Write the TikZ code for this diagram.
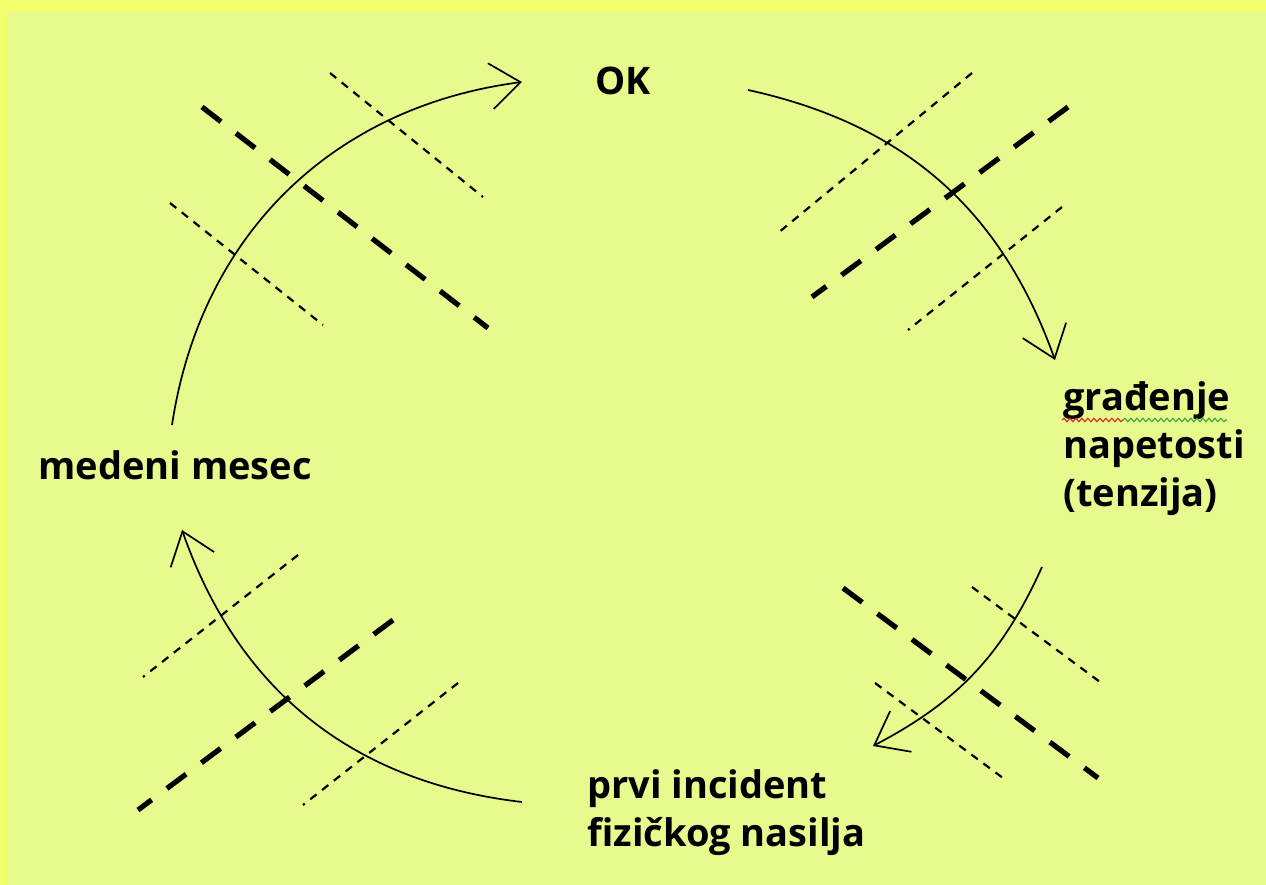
\documentclass[tikz,border=0pt]{standalone}
\usepackage{fontspec}
\setmainfont{Open Sans}
\usetikzlibrary{arrows.meta, decorations.pathmorphing}
\definecolor{bgouter}{RGB}{244,255,108}
\definecolor{bginner}{RGB}{230,250,142}
\definecolor{spellred}{RGB}{215,45,40}
\definecolor{spellgreen}{RGB}{70,165,60}
\tikzset{
  stage/.style={font=\bfseries\fontsize{19}{24}\selectfont, inner sep=0pt, align=left},
  cyclearc/.style={line width=0.85pt, -{Straight Barb[length=15pt, width=23pt, line width=0.85pt]}},
  barthick/.style={line width=2.6pt, dash pattern=on 12pt off 9.5pt},
  barthin/.style={line width=1.1pt, dash pattern=on 4pt off 3.5pt},
  spell/.style={line width=0.6pt, decorate, decoration={snake, amplitude=0.8pt, segment length=3pt}},
}

\begin{document}
\begin{tikzpicture}[x=0.5pt, y=0.5pt]
  % background
  \fill[bgouter] (0,0) rectangle (1266,885);
  \fill[bginner] (7,0) rectangle (1266,874);
  \useasboundingbox (0,0) rectangle (1266,885);
  % stages of the cycle
  \node[stage, anchor=base west] (ok) at (595,790) {OK};
  \node[stage, anchor=base west] (tenzija) at (1063,378) {građenje\\napetosti\\(tenzija)};
  \node[stage, anchor=base west] (incident) at (587,38) {prvi incident\\fizičkog nasilja};
  \node[stage, anchor=base west] (mesec) at (38,405) {medeni mesec};
  % spell check marks
  \draw[spell, spellred] (1062,465) -- (1123,465);
  \draw[spell, spellgreen] (1123,465) -- (1227,465);
  % arc ends
  \coordinate (m1) at (172,460);
  \coordinate (o1) at (522,803);
  \coordinate (o2) at (748,795);
  \coordinate (t1) at (1055,525);
  \coordinate (t2) at (1042,318);
  \coordinate (i1) at (873,139);
  \coordinate (i2) at (522,83);
  \coordinate (m2) at (182,355);
  % arcs
  \draw[cyclearc] (m1) to[bend left=37] (o1);
  \draw[cyclearc] (o2) to[bend left=29] (t1);
  \draw[cyclearc] (t2) to[bend left=19] (i1);
  \draw[cyclearc] (i2) to[bend left=32] (m2);
  % crossing bars
  \foreach \xa/\ya/\xb/\yb in {202/778/488/557, 1068/778/812/588, 843/297/1098/107, 393/265/138/75}
    \draw[barthick] (\xa,\ya) -- (\xb,\yb);
  \foreach \xa/\ya/\xb/\yb in {330/812/483/688, 170/682/323/560, 972/812/778/652, 1062/678/908/555,
                               972/298/1100/203, 875/202/1003/107, 298/330/143/208, 458/202/303/80}
    \draw[barthin] (\xa,\ya) -- (\xb,\yb);
\end{tikzpicture}
\end{document}
